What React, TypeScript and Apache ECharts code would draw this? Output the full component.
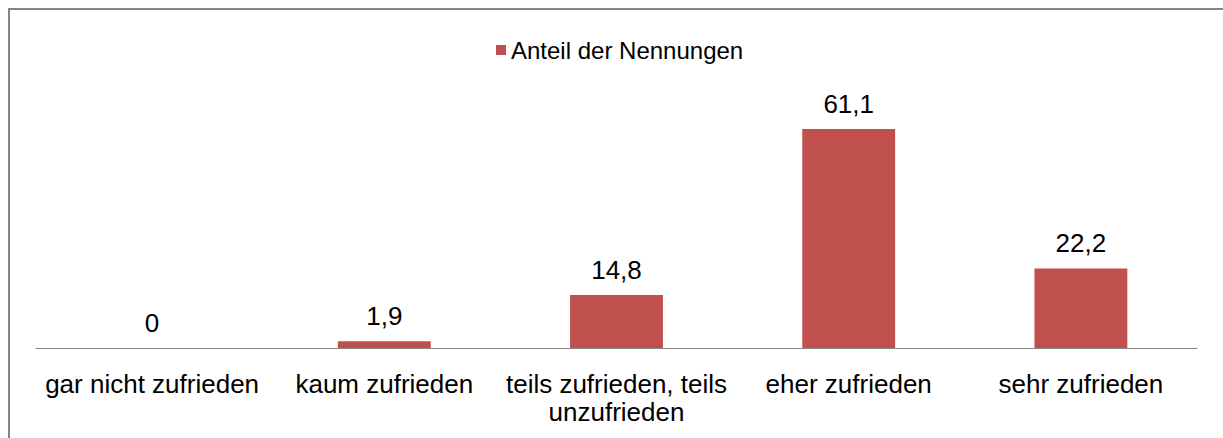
import React, { useEffect, useRef } from "react";
import * as echarts from "echarts";

const categories = [
  "gar nicht zufrieden",
  "kaum zufrieden",
  "teils zufrieden, teils\nunzufrieden",
  "eher zufrieden",
  "sehr zufrieden",
];
const seriesName = "Anteil der Nennungen";
const values = [0, 1.9, 14.8, 61.1, 22.2];

const FONT = "'Liberation Sans', Arial, sans-serif";

export default function App() {
  const ref = useRef<HTMLDivElement>(null);
  useEffect(() => {
    document.body.style.margin = "0";
    const chart = echarts.init(ref.current!, null, { renderer: "svg" });
    chart.setOption({
      animation: false,
      backgroundColor: "#ffffff",
      textStyle: { fontFamily: FONT },
      graphic: [
        {
          type: "rect",
          shape: { x: 9, y: 9, width: 1400, height: 700 },
          style: { fill: "none", stroke: "#858585", lineWidth: 2 },
          silent: true,
          z: 100,
        },
      ],
      legend: {
        show: true,
        left: 491,
        top: 33,
        icon: "rect",
        itemWidth: 10,
        itemHeight: 10,
        itemGap: 10,
        textStyle: { fontSize: 24, color: "#000", fontFamily: FONT },
        data: [seriesName],
      },
      grid: { left: 36, right: 26, top: 97, bottom: 90, containLabel: false },
      xAxis: {
        type: "category",
        data: categories,
        axisLine: { show: true, lineStyle: { color: "#868686", width: 1 } },
        axisTick: { show: false },
        axisLabel: {
          interval: 0,
          margin: 22,
          fontSize: 26,
          lineHeight: 28,
          color: "#000",
          fontFamily: FONT,
        },
      },
      yAxis: {
        type: "value",
        min: 0,
        max: 70,
        show: false,
        splitLine: { show: false },
      },
      series: [
        {
          name: seriesName,
          type: "bar",
          data: values,
          barWidth: "40%",
          itemStyle: { color: "#C0504D" },
          label: {
            show: true,
            position: "top",
            distance: 12,
            fontSize: 26,
            color: "#000",
            fontFamily: FONT,
            formatter: (p: any) => String(p.value).replace(".", ","),
          },
        },
      ],
    });
    return () => chart.dispose();
  }, []);
  return <div ref={ref} style={{ width: 1223, height: 438 }} />;
}
